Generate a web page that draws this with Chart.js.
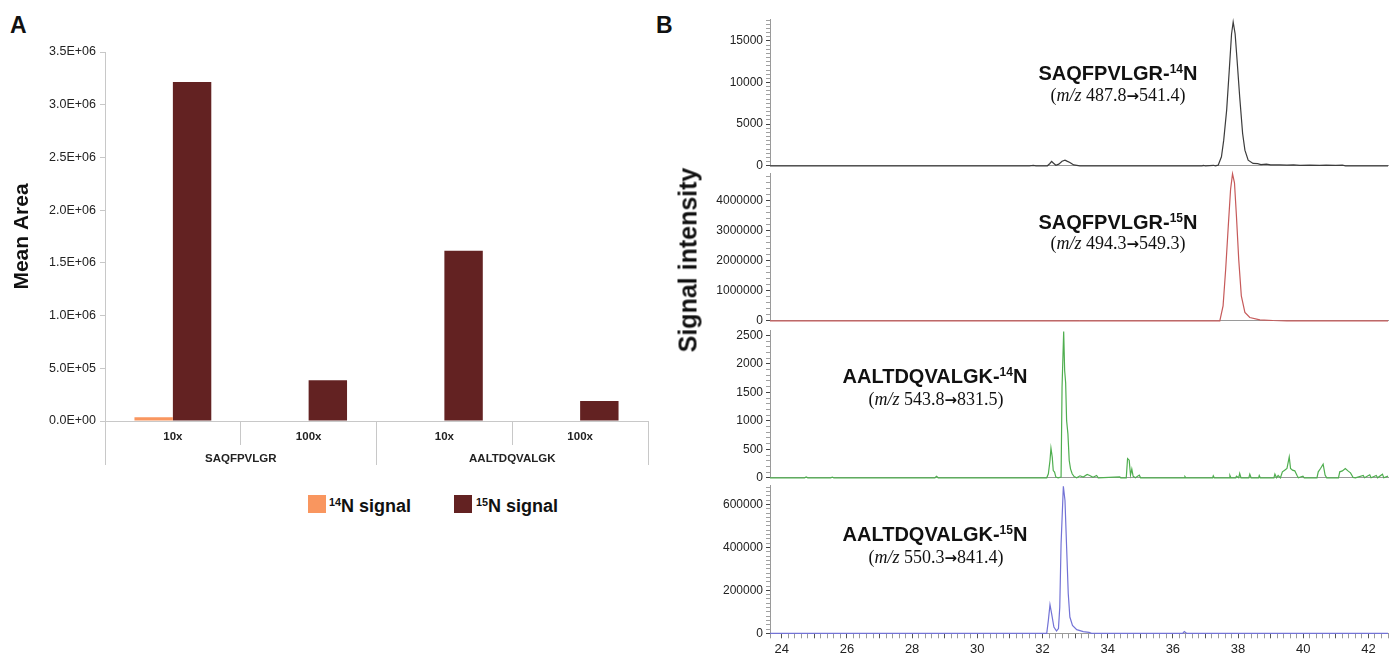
<!DOCTYPE html>
<html>
<head>
<meta charset="utf-8">
<script src="https://cdn.jsdelivr.net/npm/chart.js@4.4.1/dist/chart.umd.min.js"></script>
<style>
  html, body { margin: 0; padding: 0; background: #fff; }
  body { width: 1398px; height: 658px; position: relative; overflow: hidden;
         font-family: "Liberation Sans", Arial, sans-serif; color: #111; }
  canvas { position: absolute; }
  .txt { position: absolute; white-space: nowrap; line-height: 1; }
  .panel { font-weight: bold; font-size: 23px; }
  .pep { font-weight: bold; font-size: 20px; transform: translate(-50%, -50%); }
  .mz { font-family: "Liberation Serif", "Times New Roman", serif; font-size: 18px; transform: translate(-50%, -50%); }
  .arr { font-family: "DejaVu Sans", sans-serif; font-weight: bold; font-size: 15px; }
  sup { font-size: 0.6em; vertical-align: 0; position: relative; top: -0.6em; }
  .swatch { position: absolute; width: 18px; height: 18px; }
  .leg { font-weight: bold; font-size: 18px; }
</style>
</head>
<body>

<div class="txt panel" style="left:10px; top:14px;">A</div>
<div class="txt panel" style="left:656px; top:14px;">B</div>

<canvas id="barChart" width="660" height="480" style="left:0; top:0;"></canvas>

<div class="swatch" style="left:308px; top:495px; background:#f9965f;"></div>
<div class="txt leg" style="left:329px; top:497px;"><sup>14</sup>N signal</div>
<div class="swatch" style="left:454px; top:495px; background:#632222;"></div>
<div class="txt leg" style="left:476px; top:497px;"><sup>15</sup>N signal</div>

<canvas id="traceSaq14" width="698" height="167" style="left:700px; top:9px;"></canvas>
<canvas id="traceSaq15" width="698" height="168" style="left:700px; top:163px;"></canvas>
<canvas id="traceAal14" width="698" height="168" style="left:700px; top:320px;"></canvas>
<canvas id="traceAal15" width="698" height="183" style="left:700px; top:475px;"></canvas>

<div class="txt" style="left:688px; top:260px; font-weight:bold; font-size:25px; transform:translate(-50%,-50%) rotate(-90deg);">Signal intensity</div>

<div class="txt pep" style="left:1118px; top:73px;">SAQFPVLGR-<sup>14</sup>N</div>
<div class="txt mz" style="left:1118px; top:95px;">(<i>m/z</i> 487.8<span class="arr">→</span>541.4)</div>
<div class="txt pep" style="left:1118px; top:222px;">SAQFPVLGR-<sup>15</sup>N</div>
<div class="txt mz" style="left:1118px; top:243px;">(<i>m/z</i> 494.3<span class="arr">→</span>549.3)</div>
<div class="txt pep" style="left:935px; top:376px;">AALTDQVALGK-<sup>14</sup>N</div>
<div class="txt mz" style="left:936px; top:399px;">(<i>m/z</i> 543.8<span class="arr">→</span>831.5)</div>
<div class="txt pep" style="left:935px; top:534px;">AALTDQVALGK-<sup>15</sup>N</div>
<div class="txt mz" style="left:936px; top:557px;">(<i>m/z</i> 550.3<span class="arr">→</span>841.4)</div>

<script>
// Panel A: mean peak areas
const doseLabels = ["10x", "100x", "10x", "100x"];
const peptideLabels = ["SAQFPVLGR", "AALTDQVALGK"];
const n14Means = [3.6e4, 0, 0, 0];
const n15Means = [3.216e6, 3.87e5, 1.615e6, 1.9e5];

// Panel B: chromatograms, [retention time (min), intensity]
const saq14Trace = [
  [23.64, 0], [31.6, 0], [31.72, 50], [31.8, 0], [32.15, 0], [32.22, 250], [32.28, 520],
  [32.34, 300], [32.41, 60], [32.5, 200], [32.6, 550], [32.69, 680], [32.75, 560],
  [32.84, 400], [32.9, 250], [32.96, 100], [33.15, 0], [36.9, 0], [36.93, 40], [37.0, 0],
  [37.25, 60], [37.3, 0], [37.39, 80], [37.49, 1080], [37.56, 3080], [37.65, 6680],
  [37.73, 11470], [37.8, 15830], [37.85, 17270], [37.91, 15830], [37.97, 12670],
  [38.05, 8270], [38.14, 3880], [38.21, 1880], [38.31, 680], [38.46, 280], [38.6, 250],
  [38.7, 150], [38.87, 200], [39.0, 120], [39.28, 120], [39.5, 80], [39.7, 120],
  [39.9, 60], [40.2, 90], [40.5, 60], [40.7, 90], [41.0, 60], [41.2, 80], [41.3, 0], [42.6, 0]
];
const saq15Trace = [
  [23.64, 0], [37.44, 0], [37.54, 497000], [37.62, 1710000], [37.7, 3150000],
  [37.77, 4360000], [37.83, 4880000], [37.89, 4580000], [37.95, 3480000],
  [38.02, 2040000], [38.1, 828000], [38.21, 276000], [38.36, 110000], [38.67, 33000],
  [39.07, 10000], [39.5, 0], [42.6, 0]
];
const aal14Trace = [
  [23.64, 0], [24.7, 0], [24.75, 15], [24.8, 0], [25.5, 0], [25.55, 12], [25.6, 0],
  [28.7, 0], [28.75, 25], [28.8, 0], [32.13, 0], [32.18, 70], [32.23, 303], [32.26, 519],
  [32.3, 361], [32.33, 128], [32.37, 100], [32.41, 12], [32.48, 0], [32.57, 12],
  [32.6, 1586], [32.65, 2565], [32.68, 1877], [32.71, 1673], [32.74, 1003], [32.78, 770],
  [32.82, 303], [32.86, 157], [32.91, 70], [32.97, 23], [33.05, 0], [33.15, 35],
  [33.25, 12], [33.37, 58], [33.45, 40], [33.55, 10], [33.66, 40], [33.71, 0],
  [34.37, 17], [34.4, 0], [34.57, 0], [34.61, 338], [34.66, 309], [34.7, 47],
  [34.74, 152], [34.78, 29], [34.85, 0], [34.97, 47], [35.01, 0], [36.35, 0],
  [36.37, 23], [36.4, 0], [37.22, 0], [37.24, 35], [37.27, 0], [37.73, 0], [37.75, 41],
  [37.78, 0], [37.93, 0], [37.95, 29], [38.02, 0], [38.05, 76], [38.09, 0], [38.33, 0],
  [38.36, 64], [38.4, 0], [38.63, 0], [38.65, 41], [38.68, 0], [39.1, 0], [39.13, 64],
  [39.18, 0], [39.23, 41], [39.3, 0], [39.36, 105], [39.43, 134], [39.5, 163],
  [39.57, 367], [39.61, 163], [39.67, 134], [39.74, 122], [39.81, 41], [39.85, 0],
  [39.99, 29], [40.03, 0], [40.42, 0], [40.46, 105], [40.53, 163], [40.61, 239],
  [40.67, 47], [40.72, 0], [41.08, 0], [41.12, 105], [41.2, 122], [41.29, 163],
  [41.38, 117], [41.45, 87], [41.53, 6], [41.6, 0], [41.84, 41], [41.88, 0], [42.04, 52],
  [42.08, 0], [42.24, 41], [42.28, 0], [42.43, 64], [42.47, 0], [42.6, 29]
];
const aal15Trace = [
  [23.64, 0], [32.13, 0], [32.18, 60500], [32.23, 133000], [32.28, 91600],
  [32.35, 29300], [32.43, 10700], [32.49, 21900], [32.53, 122000], [32.57, 417000],
  [32.64, 685000], [32.69, 619000], [32.74, 401000], [32.79, 185000], [32.84, 75800],
  [32.92, 37200], [33.05, 17200], [33.25, 7900], [33.43, 4700], [33.5, 0], [36.3, 0],
  [36.35, 7900], [36.42, 0], [42.6, 0]
];

const rtMin = 23.64;
const rtMax = 42.6;

Chart.defaults.font.family = '"Liberation Sans", Arial, sans-serif';
Chart.defaults.color = "#222";

function sciLabel(v) {
  const parts = Number(v).toExponential(1).split("e");
  const sign = parts[1][0];
  const digits = parts[1].slice(1).padStart(2, "0");
  return parts[0] + "E" + sign + digits;
}

function isMajor(v, step) {
  const r = v / step;
  return Math.abs(r - Math.round(r)) < 1e-6;
}

new Chart(document.getElementById("barChart").getContext("2d"), {
  type: "bar",
  data: {
    labels: doseLabels,
    datasets: [
      { label: "14N signal", data: n14Means, backgroundColor: "#f9965f" },
      { label: "15N signal", data: n15Means, backgroundColor: "#632222" }
    ]
  },
  options: {
    responsive: false,
    animation: false,
    layout: { padding: { top: 52, right: 12, bottom: 15, left: 0 } },
    datasets: { bar: { categoryPercentage: 0.566, barPercentage: 1 } },
    plugins: { legend: { display: false }, tooltip: { enabled: false } },
    scales: {
      x: {
        afterFit: s => { s.height = 24; },
        border: { color: "#c8c8c8" },
        grid: { offset: true, drawOnChartArea: false, tickLength: 24, color: "#c8c8c8" },
        ticks: { padding: -15, font: { size: 11.5, weight: "bold" } }
      },
      x2: {
        type: "category",
        labels: peptideLabels,
        position: "bottom",
        offset: true,
        afterFit: s => { s.height = 20; },
        border: { display: false },
        grid: { offset: true, drawOnChartArea: false, tickLength: 20, color: "#c8c8c8" },
        ticks: { padding: -13, font: { size: 11.5, weight: "bold" } }
      },
      y: {
        min: 0,
        max: 3.5e6,
        afterFit: s => { s.width = 105; },
        border: { color: "#c8c8c8" },
        grid: { drawOnChartArea: false, tickLength: 5, color: "#c8c8c8" },
        ticks: { stepSize: 5e5, padding: 4, font: { size: 12.5 }, callback: sciLabel },
        title: { display: true, text: "Mean Area", color: "#111",
                 font: { size: 21, weight: "bold" }, padding: { top: 10 } }
      }
    }
  }
});

function renderTrace(id, points, color, yMax, yStep, yMajor, showX) {
  const ctx = document.getElementById(id).getContext("2d");
  return new Chart(ctx, {
    type: "line",
    data: {
      datasets: [{
        data: points.map(p => ({ x: p[0], y: p[1] })),
        borderColor: color,
        borderWidth: 1.2,
        pointRadius: 0,
        tension: 0,
        clip: false
      }]
    },
    options: {
      responsive: false,
      animation: false,
      layout: { padding: { top: 10, bottom: showX ? 0 : 10, left: 0, right: 10 } },
      plugins: { legend: { display: false }, tooltip: { enabled: false } },
      scales: {
        x: {
          type: "linear",
          min: rtMin,
          max: rtMax,
          afterFit: s => { s.height = showX ? 24.7 : 0; },
          border: { color: "#9a9a9a" },
          grid: {
            drawOnChartArea: false,
            drawTicks: showX,
            tickLength: 5,
            tickColor: c => (c.tick && isMajor(c.tick.value, 1)) ? "#555" : "#9a9a9a"
          },
          ticks: {
            display: showX,
            stepSize: 0.2,
            autoSkip: false,
            maxRotation: 0,
            padding: 3,
            font: { size: 13 },
            callback: v => isMajor(v, 2) ? String(Math.round(v)) : ""
          }
        },
        y: {
          min: 0,
          max: yMax,
          afterFit: s => { s.width = 70; },
          // minor tick marks every yStep, labelled every yMajor
          afterBuildTicks: s => {
            const t = [];
            for (let i = 0; i * yStep <= yMax; i++) t.push({ value: i * yStep });
            s.ticks = t;
          },
          border: { color: "#9a9a9a" },
          grid: {
            drawOnChartArea: false,
            tickLength: 4,
            tickColor: c => (c.tick && isMajor(c.tick.value, yMajor)) ? "#444" : "#a0a0a0"
          },
          ticks: {
            autoSkip: false,
            padding: 3,
            font: { size: 12 },
            callback: v => isMajor(v, yMajor) ? String(Math.round(v)) : ""
          }
        }
      }
    }
  });
}

renderTrace("traceSaq14", saq14Trace, "#3c3c3c", 17600, 500, 5000, false);
renderTrace("traceSaq15", saq15Trace, "#c65a5a", 4900000, 200000, 1000000, false);
renderTrace("traceAal14", aal14Trace, "#4fae4f", 2590, 100, 500, false);
renderTrace("traceAal15", aal15Trace, "#7373d6", 690000, 20000, 200000, true);
</script>
</body>
</html>
